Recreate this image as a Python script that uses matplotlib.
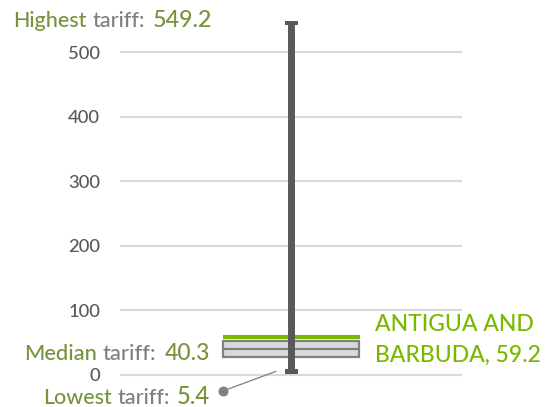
import matplotlib
matplotlib.use("Agg")
import matplotlib.pyplot as plt
from matplotlib.patches import Rectangle

# ---- data ----
lowest = 5.4
q1 = 28.0
median = 40.3
q3 = 53.0
highest = 549.2
country_label = ["ANTIGUA AND", "BARBUDA, 59.2"]
country_value = 59.2
yticks = [0, 100, 200, 300, 400, 500]
ytick_labels = ["0", "100", "200", "300", "400", "500"]

# ---- styles ----
GREEN_LBL = "#77933C"
GREY_LBL = "#7F7F7F"
BRIGHT = "#7AB800"
WHISK = "#595959"
GRID = "#D9D9D9"
WEIGHT = "medium"

plt.rcParams["font.family"] = ["Lato", "DejaVu Sans"]

W, H = 550, 407
fig = plt.figure(figsize=(5.5, 4.07), dpi=100)
renderer = fig.canvas.get_renderer()

ax = fig.add_axes([120 / W, 0.0628, (462 - 120) / W, 0.90383])
ax.set_xlim(0, 1)
ax.set_ylim(-10, 560)
for s in ax.spines.values():
    s.set_visible(False)
ax.set_xticks([])
ax.set_yticks(yticks)
ax.set_yticklabels(ytick_labels, fontweight=WEIGHT)
ax.tick_params(axis="y", length=0, pad=14.4, labelsize=13.3, labelcolor="#595959")
ax.yaxis.grid(True, color=GRID, linewidth=1.5)
ax.set_axisbelow(True)

cx = 0.5
hw = 0.2
# box
ax.add_patch(Rectangle((cx - hw, q1), 2 * hw, q3 - q1, facecolor="#D9D9D9",
                       edgecolor="#808080", linewidth=1.6, zorder=2))
ax.plot([cx - hw, cx + hw], [median, median], color="#808080", lw=1.6, zorder=3,
        solid_capstyle="butt")
# country line
ax.plot([cx - hw, cx + hw + 0.003], [country_value, country_value], color=BRIGHT, lw=3.0,
        zorder=3, solid_capstyle="butt")
# whisker
ax.plot([cx, cx], [lowest, highest], color=WHISK, lw=5, zorder=4, solid_capstyle="butt")
capw = 13 / 342
caph = 7
ax.add_patch(Rectangle((cx - capw / 2, highest - caph), capw, caph, color=WHISK, zorder=4, lw=0))
ax.add_patch(Rectangle((cx - capw / 2, lowest - caph / 2), capw, caph, color=WHISK, zorder=4, lw=0))

# lowest leader
ax.plot([0.301, 0.455], [-24.8, lowest], color="#7F7F7F", lw=0.9, clip_on=False, zorder=5)
ax.plot([0.301], [-24.8], marker="o", ms=7.2, color="#808080", clip_on=False, zorder=5,
        markeredgewidth=0)


def px(x, y):
    return x / W, 1 - y / H


def fit_size(s, target_w, ref=10):
    t = fig.text(0, 0, s, fontsize=ref, fontweight=WEIGHT)
    w = t.get_window_extent(renderer).width
    t.remove()
    return ref * target_w / w


def two_part(word, x0, x1, ybase):
    size = fit_size(word + " tariff:", x1 - x0)
    fig.text(*px(x0, ybase), word, fontsize=size, color=GREEN_LBL, ha="left", va="baseline",
             fontweight=WEIGHT)
    fig.text(*px(x1, ybase), "tariff:", fontsize=size, color=GREY_LBL, ha="right", va="baseline",
             fontweight=WEIGHT)


def number(s, x0, x1, ybase):
    size = fit_size(s, x1 - x0)
    fig.text(*px(x0, ybase), s, fontsize=size, color=GREEN_LBL, ha="left", va="baseline",
             fontweight=WEIGHT)


two_part("Highest", 13, 145, 27.3)
number(f"{highest}", 153, 212, 27.3)
two_part("Median", 24, 156, 360)
number(f"{median}", 165, 210, 360)
two_part("Lowest", 43, 170, 404)
number(f"{lowest}", 177, 210, 404)

size_c = fit_size(country_label[1], 540 - 375)
fig.text(*px(375, 330.7), country_label[0], fontsize=size_c, color=BRIGHT, ha="left",
         va="baseline", fontweight=WEIGHT)
fig.text(*px(375, 362), country_label[1], fontsize=size_c, color=BRIGHT, ha="left",
         va="baseline", fontweight=WEIGHT)

fig.savefig("out.png", dpi=100)
